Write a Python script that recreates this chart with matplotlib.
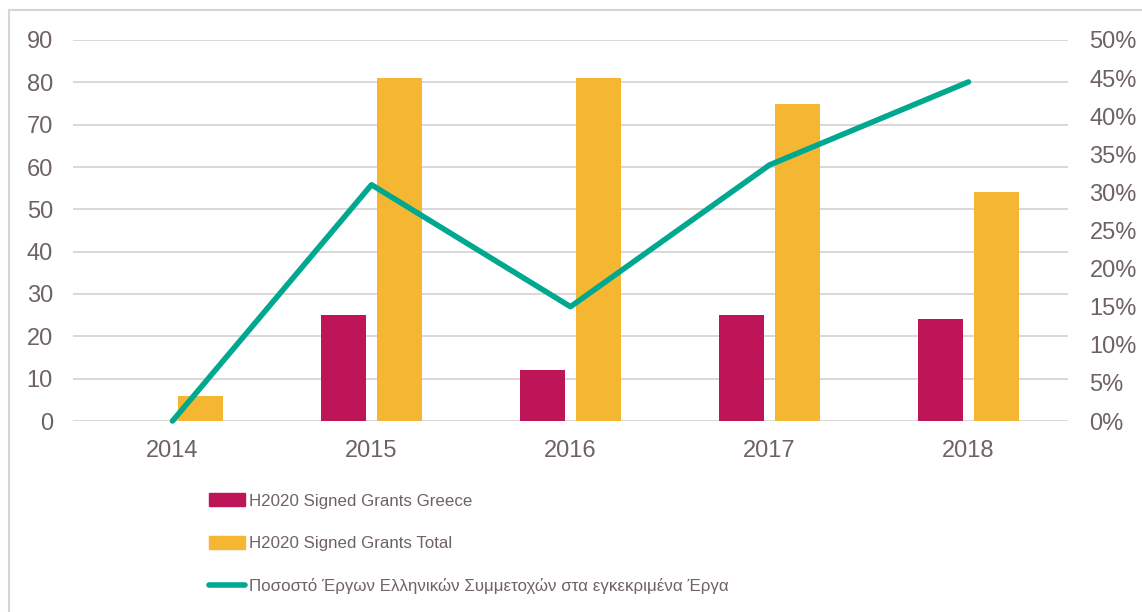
import numpy as np
import matplotlib.pyplot as plt
from matplotlib.patches import Rectangle
from matplotlib.lines import Line2D
from matplotlib.ticker import FuncFormatter

years = ["2014", "2015", "2016", "2017", "2018"]
grants_greece = [0, 25, 12, 25, 24]
grants_total = [6, 81, 81, 75, 54]
share_greek = [0.0, 0.31, 0.15, 0.336, 0.445]

label_greece = "H2020 Signed Grants Greece"
label_total = "H2020 Signed Grants Total"
label_share = "Ποσοστό Έργων Ελληνικών Συμμετοχών στα εγκεκριμένα Έργα"

MAGENTA = "#BE1558"
YELLOW = "#F5B731"
TEAL = "#00A88F"
TEXT = "#6E6264"
GRID = "#D9D4D4"

plt.rcParams["font.family"] = ["Liberation Sans", "DejaVu Sans"]

fig = plt.figure(figsize=(11.42, 6.12), dpi=100)
W, H = 1142, 612

# light frame around the chart
fig.patches.append(Rectangle((9 / W, -0.1), 1.2, 1 - 10 / H + 0.1,
                             transform=fig.transFigure, fill=False,
                             edgecolor=GRID, linewidth=1.5))

ax = fig.add_axes([73 / W, 1 - 421 / H, (1068 - 73) / W, (421 - 40) / H])
ax2 = ax.twinx()

x = np.arange(len(years))
width = 0.223
off = 0.141
ax.bar(x - off, grants_greece, width, color=MAGENTA, zorder=3)
ax.bar(x + off, grants_total, width, color=YELLOW, zorder=3)

ax.set_xlim(-0.5, len(years) - 0.5)
ax.set_ylim(0, 90)
ax.set_yticks(np.arange(0, 91, 10))
ax.set_xticks(x)
ax.set_xticklabels(years)
ax.grid(axis="y", color=GRID, linewidth=1.3, zorder=0)
ax.set_axisbelow(True)

ax2.plot(x, share_greek, color=TEAL, linewidth=4, solid_capstyle="round",
         zorder=4, clip_on=False)
ax2.set_ylim(0, 0.5)
ax2.set_yticks(np.arange(0, 0.501, 0.05))
ax2.yaxis.set_major_formatter(FuncFormatter(lambda v, p: f"{v * 100:.0f}%"))

for a in (ax, ax2):
    for s in a.spines.values():
        s.set_visible(False)
    a.tick_params(length=0, labelsize=17, colors=TEXT)
ax.tick_params(axis="y", pad=14.5)
ax.tick_params(axis="x", pad=13.5)
ax2.tick_params(axis="y", pad=15.5)

handles = [
    Rectangle((0, 0), 1, 1, color=MAGENTA),
    Rectangle((0, 0), 1, 1, color=YELLOW),
    Line2D([0], [0], color=TEAL, linewidth=4, solid_capstyle="round"),
]
leg = fig.legend(handles, [label_greece, label_total, label_share],
                 loc="upper left", bbox_to_anchor=(209 / W, 1 - 493 / H),
                 frameon=False, borderpad=0, borderaxespad=0,
                 fontsize=12.2, labelcolor=TEXT,
                 handlelength=2.1, handleheight=0.84, handletextpad=0.24,
                 labelspacing=1.6)

fig.savefig("out.png", dpi=100)
